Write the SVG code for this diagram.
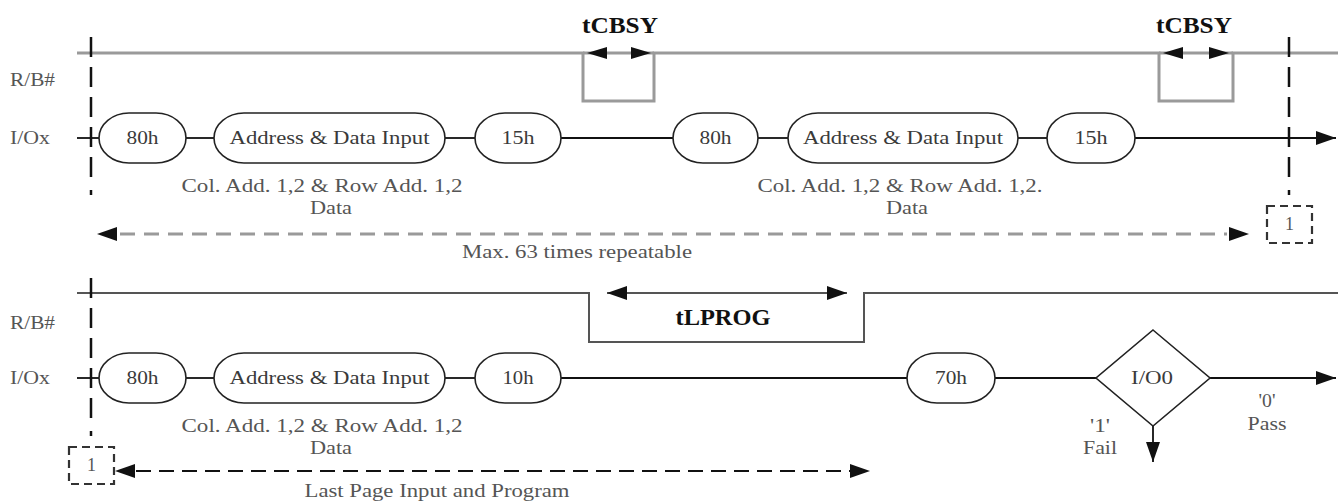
<svg xmlns="http://www.w3.org/2000/svg" width="1338" height="502" viewBox="0 0 1338 502">
<style>
.lbl{font-family:"Liberation Serif","Times New Roman",serif;font-size:18px;fill:#3a3a3a}
.ann{font-family:"Liberation Serif","Times New Roman",serif;font-size:18px;fill:#555}
.ttl{font-family:"Liberation Serif","Times New Roman",serif;font-size:24px;font-weight:bold;fill:#111}
.node{fill:#fff;stroke:#222;stroke-width:1.6}
.wire{stroke:#111;stroke-width:1.8;fill:none}
.rbg{stroke:#9a9a9a;stroke-width:3;fill:none}
.rbd{stroke:#555;stroke-width:2;fill:none}
.vdash{stroke:#111;stroke-width:2.5;stroke-dasharray:20 10;fill:none}
.box{fill:#fff;stroke:#333;stroke-width:2.2;stroke-dasharray:8 5}
</style>
<defs>
<marker id="ah" markerUnits="userSpaceOnUse" markerWidth="22" markerHeight="16" refX="20" refY="7" orient="auto">
<path d="M0,0 L20,7 L0,14 z" fill="#111"/>
</marker>
<marker id="ahs" markerUnits="userSpaceOnUse" markerWidth="22" markerHeight="14" refX="20" refY="6" orient="auto">
<path d="M0,0 L20,6 L0,12 z" fill="#111"/>
</marker>
</defs>

<!-- signal labels -->
<g id="labels">
<text class="ann" x="10" y="86" textLength="45" lengthAdjust="spacingAndGlyphs">R/B#</text>
<text class="ann" x="10" y="144" textLength="40" lengthAdjust="spacingAndGlyphs">I/Ox</text>
<text class="ann" x="10" y="329" textLength="45" lengthAdjust="spacingAndGlyphs">R/B#</text>
<text class="ann" x="10" y="384" textLength="40" lengthAdjust="spacingAndGlyphs">I/Ox</text>
</g>

<g id="connectors">
<!-- top R/B# waveform -->
<path class="rbg" d="M77,53 H583 V101 H654 V53 H1159 V101 H1233 V53 H1338"/>
<line class="rbg" x1="583" y1="53" x2="654" y2="53"/>
<line class="rbg" x1="1159" y1="53" x2="1233" y2="53"/>
<line x1="607" y1="53" x2="587" y2="53" stroke="none" marker-end="url(#ahs)"/>
<line x1="631" y1="53" x2="651" y2="53" stroke="none" marker-end="url(#ahs)"/>
<line x1="1183" y1="53" x2="1163" y2="53" stroke="none" marker-end="url(#ahs)"/>
<line x1="1209" y1="53" x2="1229" y2="53" stroke="none" marker-end="url(#ahs)"/>
<!-- top I/Ox -->
<line class="wire" x1="77" y1="138" x2="99" y2="138"/>
<line class="wire" x1="186" y1="138" x2="214" y2="138"/>
<line class="wire" x1="445" y1="138" x2="475" y2="138"/>
<line class="wire" x1="561" y1="138" x2="673" y2="138"/>
<line class="wire" x1="758" y1="138" x2="788" y2="138"/>
<line class="wire" x1="1018" y1="138" x2="1047" y2="138"/>
<line class="wire" x1="1135" y1="138" x2="1336" y2="138" marker-end="url(#ah)"/>
<!-- top dashed verticals -->
<line class="vdash" x1="91" y1="37" x2="91" y2="180"/>
<line x1="91" y1="190" x2="91" y2="195" stroke="#111" stroke-width="2.5"/>
<line class="vdash" x1="1289" y1="37" x2="1289" y2="180"/>
<line x1="1289" y1="190" x2="1289" y2="195" stroke="#111" stroke-width="2.5"/>
<!-- top repeat arrow -->
<line x1="120" y1="234" x2="1227" y2="234" stroke="#9a9a9a" stroke-width="3" stroke-dasharray="15 9"/>
<line x1="120" y1="234" x2="97" y2="234" stroke="none" marker-end="url(#ah)"/>
<line x1="1226" y1="234" x2="1249" y2="234" stroke="none" marker-end="url(#ah)"/>

<!-- bottom R/B# waveform -->
<path class="rbd" d="M77,293 H589 V342 H864 V293 H1338"/>
<line x1="607" y1="293" x2="847" y2="293" stroke="#555" stroke-width="1.8"/>
<line x1="628" y1="293" x2="607" y2="293" stroke="none" marker-end="url(#ah)"/>
<line x1="826" y1="293" x2="847" y2="293" stroke="none" marker-end="url(#ah)"/>
<!-- bottom I/Ox -->
<line class="wire" x1="77" y1="378" x2="99" y2="378"/>
<line class="wire" x1="186" y1="378" x2="214" y2="378"/>
<line class="wire" x1="445" y1="378" x2="475" y2="378"/>
<line class="wire" x1="561" y1="378" x2="907" y2="378"/>
<line class="wire" x1="995" y1="378" x2="1096" y2="378"/>
<line class="wire" x1="1210" y1="378" x2="1336" y2="378" marker-end="url(#ah)"/>
<line class="wire" x1="1153" y1="426" x2="1153" y2="462" marker-end="url(#ah)"/>
<!-- bottom dashed vertical -->
<line class="vdash" x1="91" y1="278" x2="91" y2="420"/>
<line x1="91" y1="431" x2="91" y2="436" stroke="#111" stroke-width="2.5"/>
<!-- bottom dashed arrow -->
<line x1="136" y1="471" x2="850" y2="471" stroke="#111" stroke-width="2" stroke-dasharray="15 8"/>
<line x1="137" y1="471" x2="115" y2="471" stroke="none" marker-end="url(#ah)"/>
<line x1="848" y1="471" x2="870" y2="471" stroke="none" marker-end="url(#ah)"/>
</g>

<!-- timing titles -->
<g id="tcbsy1"><text class="ttl" x="620" y="33" text-anchor="middle" textLength="76" lengthAdjust="spacingAndGlyphs">tCBSY</text></g>
<g id="tcbsy2"><text class="ttl" x="1194" y="33" text-anchor="middle" textLength="76" lengthAdjust="spacingAndGlyphs">tCBSY</text></g>
<g id="tlprog"><text class="ttl" x="723" y="325" text-anchor="middle" textLength="95" lengthAdjust="spacingAndGlyphs">tLPROG</text></g>

<!-- top row nodes -->
<g id="n-80h-1"><rect class="node" x="99" y="113" width="87" height="50" rx="30" ry="25"/><text class="lbl" x="142.5" y="144" text-anchor="middle" textLength="32" lengthAdjust="spacingAndGlyphs">80h</text></g>
<g id="n-addr-1"><rect class="node" x="214" y="113" width="231" height="50" rx="30" ry="25"/><text class="lbl" x="329.5" y="144" text-anchor="middle" textLength="200" lengthAdjust="spacingAndGlyphs">Address &amp; Data Input</text></g>
<g id="n-15h-1"><rect class="node" x="475" y="113" width="86" height="50" rx="30" ry="25"/><text class="lbl" x="518" y="144" text-anchor="middle" textLength="33" lengthAdjust="spacingAndGlyphs">15h</text></g>
<g id="n-80h-2"><rect class="node" x="673" y="113" width="85" height="50" rx="30" ry="25"/><text class="lbl" x="715.5" y="144" text-anchor="middle" textLength="32" lengthAdjust="spacingAndGlyphs">80h</text></g>
<g id="n-addr-2"><rect class="node" x="788" y="113" width="230" height="50" rx="30" ry="25"/><text class="lbl" x="903" y="144" text-anchor="middle" textLength="200" lengthAdjust="spacingAndGlyphs">Address &amp; Data Input</text></g>
<g id="n-15h-2"><rect class="node" x="1047" y="113" width="88" height="50" rx="30" ry="25"/><text class="lbl" x="1091" y="144" text-anchor="middle" textLength="33" lengthAdjust="spacingAndGlyphs">15h</text></g>
<g id="n-box-1"><rect class="box" x="1267" y="206" width="45" height="37"/><text class="ann" x="1289.5" y="230" text-anchor="middle" font-size="13">1</text></g>

<!-- top annotations -->
<g id="ann-top">
<text class="ann" x="322" y="192" text-anchor="middle" textLength="281" lengthAdjust="spacingAndGlyphs">Col. Add. 1,2 &amp; Row Add. 1,2</text>
<text class="ann" x="331" y="214" text-anchor="middle" textLength="42" lengthAdjust="spacingAndGlyphs">Data</text>
<text class="ann" x="900" y="192" text-anchor="middle" textLength="285" lengthAdjust="spacingAndGlyphs">Col. Add. 1,2 &amp; Row Add. 1,2.</text>
<text class="ann" x="907" y="214" text-anchor="middle" textLength="42" lengthAdjust="spacingAndGlyphs">Data</text>
<text class="ann" x="577" y="258" text-anchor="middle" textLength="230" lengthAdjust="spacingAndGlyphs">Max. 63 times repeatable</text>
</g>

<!-- bottom row nodes -->
<g id="n-80h-3"><rect class="node" x="99" y="353" width="87" height="50" rx="30" ry="25"/><text class="lbl" x="142.5" y="384" text-anchor="middle" textLength="32" lengthAdjust="spacingAndGlyphs">80h</text></g>
<g id="n-addr-3"><rect class="node" x="214" y="353" width="231" height="50" rx="30" ry="25"/><text class="lbl" x="329.5" y="384" text-anchor="middle" textLength="200" lengthAdjust="spacingAndGlyphs">Address &amp; Data Input</text></g>
<g id="n-10h"><rect class="node" x="475" y="353" width="86" height="50" rx="30" ry="25"/><text class="lbl" x="518" y="384" text-anchor="middle" textLength="31" lengthAdjust="spacingAndGlyphs">10h</text></g>
<g id="n-70h"><rect class="node" x="907" y="353" width="88" height="50" rx="30" ry="25"/><text class="lbl" x="951" y="384" text-anchor="middle" textLength="32" lengthAdjust="spacingAndGlyphs">70h</text></g>
<g id="n-io0"><path class="node" d="M1153,330 L1210,378 L1153,426 L1096,378 Z"/><text class="lbl" x="1152" y="384" text-anchor="middle" textLength="42" lengthAdjust="spacingAndGlyphs">I/O0</text></g>
<g id="n-box-2"><rect class="box" x="69" y="447" width="45" height="37"/><text class="ann" x="91.5" y="471" text-anchor="middle" font-size="13">1</text></g>

<!-- bottom annotations -->
<g id="ann-bottom">
<text class="ann" x="322" y="432" text-anchor="middle" textLength="281" lengthAdjust="spacingAndGlyphs">Col. Add. 1,2 &amp; Row Add. 1,2</text>
<text class="ann" x="331" y="454" text-anchor="middle" textLength="42" lengthAdjust="spacingAndGlyphs">Data</text>
<text class="ann" x="437" y="497" text-anchor="middle" textLength="265" lengthAdjust="spacingAndGlyphs">Last Page Input and Program</text>
<text class="ann" x="1100" y="432" text-anchor="middle" textLength="20" lengthAdjust="spacingAndGlyphs">'1'</text>
<text class="ann" x="1100" y="454" text-anchor="middle" textLength="34" lengthAdjust="spacingAndGlyphs">Fail</text>
<text class="ann" x="1267" y="407" text-anchor="middle" textLength="17" lengthAdjust="spacingAndGlyphs">'0'</text>
<text class="ann" x="1267" y="430" text-anchor="middle" textLength="39" lengthAdjust="spacingAndGlyphs">Pass</text>
</g>
</svg>
